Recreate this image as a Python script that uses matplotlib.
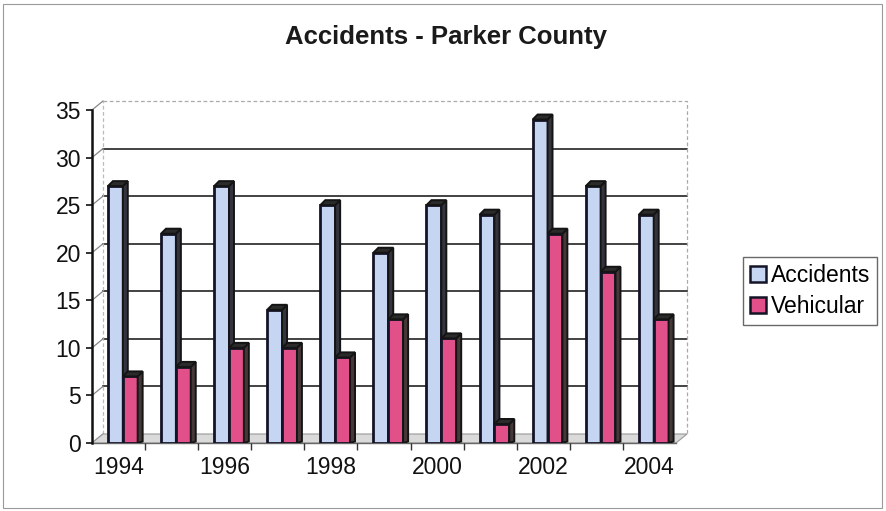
import numpy as np
import matplotlib.pyplot as plt
from matplotlib.patches import Polygon, Patch, Rectangle
from matplotlib.transforms import offset_copy

years = [1994, 1995, 1996, 1997, 1998, 1999, 2000, 2001, 2002, 2003, 2004]
accidents = [27, 22, 27, 14, 25, 20, 25, 24, 34, 27, 24]
vehicular = [7, 8, 10, 10, 9, 13, 11, 2, 22, 18, 13]
year_labels = ['1994', '', '1996', '', '1998', '', '2000', '', '2002', '', '2004']
y_ticks = [0, 5, 10, 15, 20, 25, 30, 35]

plt.rcParams['font.family'] = ['Liberation Sans', 'DejaVu Sans']

W, H = 886, 511
fig = plt.figure(figsize=(W / 100, H / 100), dpi=100)
# axes area = front face of the 3D box (pixels)
left_px, right_px, bot_px, top_px = 92, 676, 443, 110
ax = fig.add_axes([left_px / W, 1 - bot_px / H, (right_px - left_px) / W, (bot_px - top_px) / H])
ax.set_xlim(-0.5, 10.5)
ax.set_ylim(0, 35)
for s in ['top', 'right', 'bottom']:
	ax.spines[s].set_visible(False)
ax.spines['left'].set_linewidth(1.8)
ax.spines['left'].set_color('#111111')
ax.patch.set_alpha(0)

# depth of the box in pixels
dxp, dyp = 11, 9
back = offset_copy(ax.transData, fig=fig, x=dxp, y=dyp, units='dots')
ddx_box, ddy_box = dxp / 53.1, dyp / 9.51

x = np.arange(len(years))

# floor
floor = Polygon([(-0.5, 0), (10.5, 0), (10.5 + ddx_box, ddy_box), (-0.5 + ddx_box, ddy_box)],
		closed=True, facecolor='#dadada', edgecolor='#999999', lw=0.8, zorder=1, clip_on=False)
ax.add_patch(floor)
ax.plot([-0.5, 10.5], [0, 0], color='#666666', lw=1.0, zorder=1, clip_on=False)

# back wall gridlines + border
for v in y_ticks[1:-1]:
	ax.plot([-0.5, 10.5], [v, v], color='#222222', lw=1.2, transform=back, zorder=0, clip_on=False)
ax.plot([-0.5, 10.5, 10.5], [35, 35, 0], color='#aaaaaa', lw=0.9, ls=(0, (3, 2)),
		transform=back, zorder=0, clip_on=False)
ax.plot([-0.5, -0.5], [0, 35], color='#bbbbbb', lw=0.9, ls=(0, (3, 2)), transform=back, zorder=0, clip_on=False)
# left wall diagonals
for v in y_ticks:
	ax.plot([-0.5, -0.5 + ddx_box], [v, v + ddy_box], color='#888888', lw=0.9, zorder=0, clip_on=False)

# 3D bars
bw = 0.28
ddx, ddy = 5 / 53.1, 5 / 9.51
def bar3d(xs, hs, color, side):
	bars = ax.bar(xs, hs, width=bw, align='edge', color=color, edgecolor='#141428', linewidth=2.0, zorder=3)
	for b in bars:
		x0, h = b.get_x(), b.get_height()
		x1 = x0 + bw
		ax.add_patch(Polygon([(x1, 0), (x1, h), (x1 + ddx, h + ddy), (x1 + ddx, ddy * 0.3)],
				closed=True, facecolor=side, edgecolor='#141414', lw=1.4, zorder=3))
		ax.add_patch(Polygon([(x0, h), (x1, h), (x1 + ddx, h + ddy), (x0 + ddx, h + ddy)],
				closed=True, facecolor='#2b2b2b', edgecolor='#141414', lw=1.4, zorder=3))
	return bars

bar3d(x - 0.2, accidents, '#c6d5f2', '#34343e')
bar3d(x + 0.08, vehicular, '#e2508a', '#463838')

ax.set_yticks(y_ticks)
ax.tick_params(axis='y', labelsize=16.5, length=4, width=1.2, pad=4, colors='#111111')
ax.set_xticks(x)
ax.set_xticklabels(year_labels)
ax.tick_params(axis='x', labelsize=16.5, length=0, pad=9, colors='#111111')
ax.set_xticks(np.arange(0.5, 10.5, 1), minor=True)
ax.tick_params(axis='x', which='minor', length=5, width=1, color='#333333')

fig.text(0.503, 1 - 37 / H, 'Accidents - Parker County', ha='center', va='center',
		fontsize=18.5, fontweight='bold', color='#1a1a1a')

handles = [Patch(facecolor='#c6d5f2', edgecolor='#141428', lw=1.8, label='Accidents'),
		Patch(facecolor='#e2508a', edgecolor='#141428', lw=1.8, label='Vehicular')]
fig.legend(handles=handles, loc='center', bbox_to_anchor=(810 / W, 1 - 291 / H), fontsize=16.5,
		frameon=True, fancybox=False, edgecolor='#444444', handlelength=0.7, handleheight=0.7,
		handletextpad=0.2, borderpad=0.3, labelspacing=0.35, borderaxespad=0)

fig.patches.append(Rectangle((3 / W, 3 / H), 1 - 7 / W, 1 - 7 / H, transform=fig.transFigure,
		fill=False, edgecolor='#999999', lw=0.8))

fig.savefig('out.png', dpi=100)
